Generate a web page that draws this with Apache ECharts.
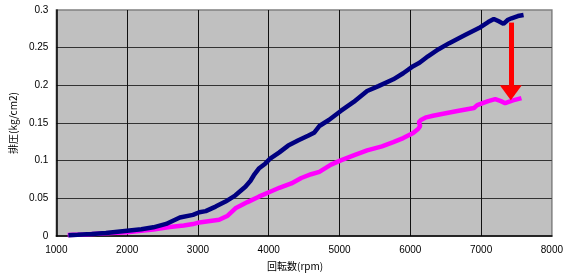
<!DOCTYPE html>
<html><head><meta charset="utf-8">
<script src="https://cdn.jsdelivr.net/npm/echarts@6/dist/echarts.min.js"></script>
<style>html,body{margin:0;padding:0;background:#fff}#c{width:566px;height:276px}</style>
</head><body><div id="c"></div>
<script>
const xTicks = [1000,2000,3000,4000,5000,6000,7000,8000];
const yTicks = [0,0.05,0.1,0.15,0.2,0.25,0.3];
const beforeRpm = [1170,1300,1500,1700,2000,2200,2370,2550,2745,2930,3020,3110,3250,3390,3530,3670,3740,3790,3860,3950,4020,4150,4275,4420,4555,4640,4715,4850,5018,5200,5390,5550,5760,5900,6040,6130,6250,6400,6550,6780,6970,7100,7180,7250,7316,7380,7430,7520,7600];
const beforeVal = [0.001,0.0015,0.0025,0.004,0.007,0.009,0.0115,0.016,0.0245,0.028,0.0315,0.033,0.039,0.0457,0.054,0.0654,0.073,0.0807,0.0895,0.096,0.1026,0.111,0.12,0.127,0.133,0.137,0.146,0.154,0.166,0.178,0.1925,0.199,0.208,0.216,0.2254,0.2299,0.2386,0.248,0.256,0.267,0.276,0.284,0.288,0.285,0.2816,0.287,0.289,0.292,0.2934];
const afterRpm = [1160,1400,1700,2000,2200,2370,2600,2800,2930,3020,3300,3420,3530,3700,3860,4020,4150,4320,4460,4600,4715,4800,4880,5018,5200,5390,5600,5760,5900,6040,6110,6140,6120,6150,6225,6320,6500,6665,6900,6945,7100,7200,7280,7340,7450,7570];
const afterVal = [0.0012,0.002,0.0035,0.005,0.007,0.0085,0.012,0.014,0.0158,0.018,0.0215,0.027,0.0368,0.045,0.0522,0.0588,0.064,0.0697,0.077,0.082,0.0851,0.09,0.0947,0.1004,0.107,0.1136,0.119,0.1246,0.13,0.1368,0.142,0.146,0.151,0.154,0.1575,0.1596,0.163,0.166,0.17,0.1737,0.179,0.1816,0.179,0.1763,0.18,0.183];
const arrowRpm = [7420];
const arrowVal = [0.2833, 0.19];

const font = "'Liberation Sans', Arial, 'Noto Sans CJK JP', sans-serif";
const chart = echarts.init(document.getElementById('c'), null, {renderer:'canvas'});
chart.setOption({
  animation:false,
  grid:{left:51.5,right:12,top:10,bottom:38,show:true,backgroundColor:'#C0C0C0',borderColor:'#808080',borderWidth:1.5},
  xAxis:{type:'value',min:xTicks[0],max:xTicks[xTicks.length-1],interval:1000,
    name:'回転数(rpm)',nameLocation:'middle',nameGap:25,
    nameTextStyle:{fontFamily:"'Noto Sans CJK JP', sans-serif",fontSize:10,color:'#000',padding:[0,18,0,0]},
    axisLine:{show:true,lineStyle:{color:'#000',width:1.5}},axisTick:{show:false},
    axisLabel:{fontFamily:font,fontSize:10,color:'#000',margin:9,formatter:v=>String(v)},
    splitLine:{show:true,showMaxLine:false,showMinLine:false,lineStyle:{color:'#111',width:1}}},
  yAxis:{type:'value',min:yTicks[0],max:yTicks[yTicks.length-1],interval:0.05,
    name:'排圧(kg/cm2)',nameLocation:'middle',nameGap:33,
    nameTextStyle:{fontFamily:"'Noto Sans CJK JP', sans-serif",fontSize:10,color:'#000'},
    axisLine:{show:true,lineStyle:{color:'#000',width:1.5}},axisTick:{show:false},
    axisLabel:{fontFamily:font,fontSize:10,color:'#000',margin:8,formatter:v=>String(+v.toFixed(2))},
    splitLine:{show:true,showMaxLine:false,showMinLine:false,lineStyle:{color:'#333',width:1}}},
  series:[
    {type:'line',name:'before',data:beforeRpm.map((r,i)=>[r,beforeVal[i]]),showSymbol:false,
     lineStyle:{color:'#000080',width:4.5},itemStyle:{color:'#000080'},z:3,
     markLine:{silent:true,symbol:['none','triangle'],symbolSize:[22,15],label:{show:false},
       lineStyle:{color:'#FF0000',width:5,type:'solid'},itemStyle:{color:'#FF0000'},
       data:[[{coord:[arrowRpm[0],arrowVal[0]]},{coord:[arrowRpm[0],arrowVal[1]]}]]}},
    {type:'line',name:'after',data:afterRpm.map((r,i)=>[r,afterVal[i]]),showSymbol:false,
     lineStyle:{color:'#FF00FF',width:4.5},itemStyle:{color:'#FF00FF'},z:2}
  ]
});
</script></body></html>
